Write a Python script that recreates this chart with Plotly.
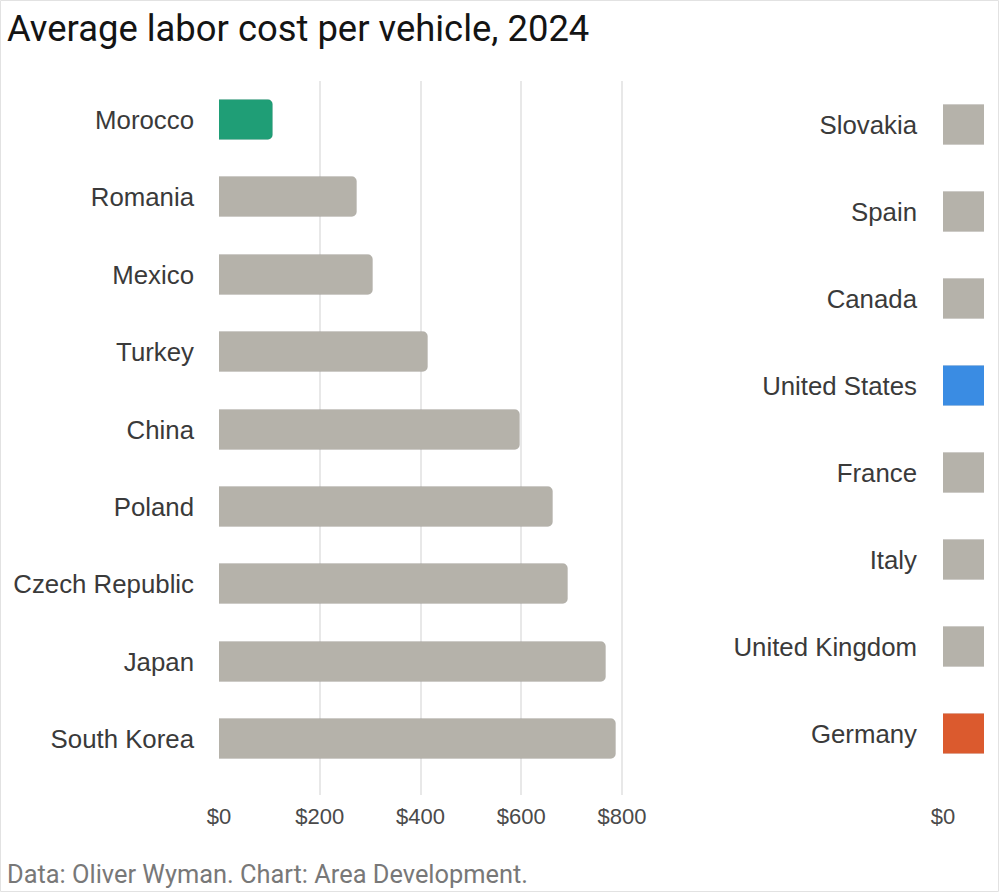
import plotly.graph_objects as go

# ---- data ----
left_countries = ["Morocco", "Romania", "Mexico", "Turkey", "China", "Poland",
                  "Czech Republic", "Japan", "South Korea"]
left_values = [107, 274, 306, 415, 597, 663, 692, 768, 788]
left_colors = ["#1f9e76"] + ["#b5b2aa"] * 8

right_countries = ["Slovakia", "Spain", "Canada", "United States", "France", "Italy",
                   "United Kingdom", "Germany"]
right_values = [830, 1050, 1200, 1341, 1500, 1600, 1900, 3307]
right_colors = ["#b5b2aa", "#b5b2aa", "#b5b2aa", "#3a8ce3", "#b5b2aa", "#b5b2aa",
                "#b5b2aa", "#db5a2e"]

left_ticks = [0, 200, 400, 600, 800]
left_ticklabels = ["$0", "$200", "$400", "$600", "$800"]
right_ticks = [0]
right_ticklabels = ["$0"]

title_text = "Average labor cost per vehicle, 2024"
source_text = "Data: Oliver Wyman. Chart: Area Development."

# ---- layout helpers (pixel geometry) ----
W, H = 1000, 893
T, B = 81, 795
px_per_dollar = (622 - 219) / 800.0


def fx(px):
    return px / W


def fy(py):
    return (H - py) / H


fig = go.Figure()
fig.add_trace(go.Bar(
    x=left_values, y=left_countries, orientation="h",
    marker=dict(color=left_colors, cornerradius=5,
                line=dict(color="rgba(0,0,0,0.06)", width=1)),
    width=0.517, xaxis="x", yaxis="y", hoverinfo="x+y", showlegend=False,
))
fig.add_trace(go.Bar(
    x=right_values, y=right_countries, orientation="h",
    marker=dict(color=right_colors, cornerradius=5,
                line=dict(color="rgba(0,0,0,0.06)", width=1)),
    width=0.46, xaxis="x2", yaxis="y2", hoverinfo="x+y", showlegend=False,
))

tick_font = dict(family="Liberation Sans, Arial, sans-serif", size=22, color="#4a4a4a")
cat_font = dict(family="Liberation Sans, Arial, sans-serif", size=25.8, color="#3a3a3a")
grid_col = "#e8e8e8"

left_px_top, left_px_step = 120, (739 - 120) / 8
right_px_top, right_px_step = 125, (734 - 125) / 7

fig.update_layout(
    width=W, height=H, margin=dict(l=0, r=0, t=0, b=0, autoexpand=False),
    paper_bgcolor="white", plot_bgcolor="white",
    bargap=0,
    xaxis=dict(domain=[fx(219), fx(630)],
               range=[0, (630 - 219) / px_per_dollar],
               tickvals=left_ticks, ticktext=left_ticklabels,
               showgrid=True, gridcolor=grid_col, gridwidth=1.5,
               zeroline=False, showline=False, ticks="", tickfont=tick_font,
               ticklabelstandoff=6, automargin=False,
               anchor="y", fixedrange=True),
    yaxis=dict(domain=[fy(B), fy(T)],
               range=[8 + (B - 739) / left_px_step, -(left_px_top - T) / left_px_step],
               categoryorder="array", categoryarray=left_countries,
               showgrid=False, zeroline=False, showline=False, ticks="",
               tickfont=cat_font, ticklabelstandoff=24, automargin=False,
               anchor="x", fixedrange=True),
    xaxis2=dict(domain=[fx(943), fx(984)],
                range=[0, (984 - 943) / px_per_dollar],
                tickvals=right_ticks, ticktext=right_ticklabels,
                showgrid=True, gridcolor=grid_col, gridwidth=1.5,
                zeroline=False, showline=False, ticks="", tickfont=tick_font,
                ticklabelstandoff=6, automargin=False,
                anchor="y2", fixedrange=True),
    yaxis2=dict(domain=[fy(B), fy(T)],
                range=[7 + (B - 734) / right_px_step, -(right_px_top - T) / right_px_step],
                categoryorder="array", categoryarray=right_countries,
                showgrid=False, zeroline=False, showline=False, ticks="",
                tickfont=cat_font, ticklabelstandoff=25, automargin=False,
                anchor="x2", fixedrange=True),
    annotations=[
        dict(text=title_text, xref="paper", yref="paper", x=fx(5), y=fy(5),
             xanchor="left", yanchor="top", showarrow=False,
             font=dict(family="Roboto, sans-serif", size=36.4, color="#141414")),
        dict(text=source_text, xref="paper", yref="paper", x=fx(5), y=fy(893 - 2),
             xanchor="left", yanchor="bottom", showarrow=False,
             font=dict(family="Roboto, sans-serif", size=25.4, color="#787878")),
    ],
    shapes=[
        # white strip: the right panel's bars are cut at the panel's edge
        dict(type="rect", xref="paper", yref="paper",
             x0=fx(984.2), x1=fx(1000), y0=fy(B + 2), y1=fy(T - 2),
             line=dict(width=0), fillcolor="white", layer="above"),
        dict(type="rect", xref="paper", yref="paper",
             x0=fx(0.5), x1=fx(998.5), y0=fy(891.5), y1=fy(0.5),
             line=dict(color="#e2e2e2", width=1), fillcolor="rgba(0,0,0,0)", layer="above"),
    ],
)

fig.write_html(
    "out.html",
    post_script="document.body.style.margin='0';document.body.style.overflow='hidden';",
)
